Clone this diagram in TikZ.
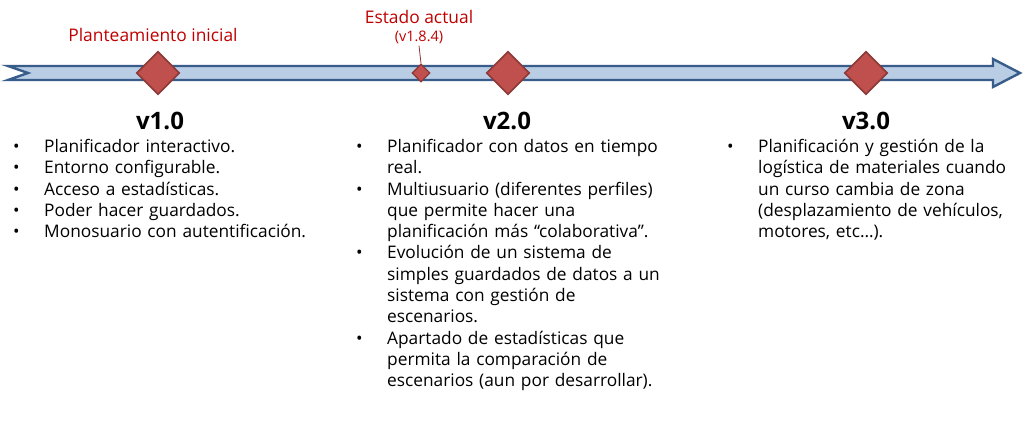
\documentclass[tikz,border=0pt]{standalone}
\usepackage{fontspec}
\setmainfont{Open Sans}
\usetikzlibrary{shapes.geometric}
\definecolor{azulrelleno}{RGB}{185,205,229}
\definecolor{azulborde}{RGB}{56,93,138}
\definecolor{rojohito}{RGB}{192,80,77}
\definecolor{rojoborde}{RGB}{140,56,54}
\definecolor{rojotexto}{RGB}{192,0,0}
\newcommand{\bul}{\par\hangindent=31pt\hangafter=1\noindent\makebox[31pt][l]{\textbullet}}
\tikzset{
  hito/.style={diamond, aspect=1, inner sep=0pt, minimum size=43pt, fill=rojohito, draw=rojoborde, line width=1.6pt},
  hitochico/.style={hito, minimum size=18pt, line width=1.3pt},
  etiqueta/.style={font=\fontsize{17.4}{20}\selectfont, text=rojotexto, inner sep=0pt},
  version/.style={font=\fontsize{24}{28}\selectfont\bfseries, inner sep=0pt, anchor=base},
  lista/.style={font=\fontsize{17.3}{21.3}\selectfont, inner sep=0pt, anchor=north west, align=left, text width=#1},
  flecha/.style={fill=azulrelleno, draw=azulborde, line width=2.4pt, line join=miter}
}
\begin{document}
\begin{tikzpicture}[x=1pt, y=-1pt]
\useasboundingbox[fill=white] (0,0) rectangle (1024,430);
% linea de tiempo
\draw[flecha] (8,66) -- (993,66) -- (993,59) -- (1020,73) -- (993,87) -- (993,80)
  -- (8,80) -- (28,73) -- cycle;
% hitos
\node[hito] (h1) at (158,73) {};
\node[hitochico] (hact) at (421,73) {};
\node[hito] (h2) at (508,73) {};
\node[hito] (h3) at (866,73) {};
% etiquetas rojas
\node[etiqueta] (inicial) at (153,35) {Planteamiento inicial};
\node[etiqueta] (actual) at (419,17) {Estado actual};
\node[etiqueta, font=\fontsize{14.5}{17}\selectfont] (version) at (419,37) {(v1.8.4)};
\draw[rojoborde, line width=0.8pt] (version.south) ++(0,2) -- (hact.north);
% versiones
\node[version] (v1) at (160,130) {v1.0};
\node[version] (v2) at (507,130) {v2.0};
\node[version] (v3) at (866,130) {v3.0};
% listas
\node[lista=320pt] (l1) at (13,131) {%
  \bul Planificador interactivo.
  \bul Entorno configurable.
  \bul Acceso a estadísticas.
  \bul Poder hacer guardados.
  \bul Monosuario con autentificación.\par};
\node[lista=340pt] (l2) at (356,131) {%
  \bul Planificador con datos en tiempo\newline real.
  \bul Multiusuario (diferentes perfiles)\newline que permite hacer una\newline planificación más “colaborativa”.
  \bul Evolución de un sistema de\newline simples guardados de datos a un\newline sistema con gestión de\newline escenarios.
  \bul Apartado de estadísticas que\newline permita la comparación de\newline escenarios (aun por desarrollar).\par};
\node[lista=295pt] (l3) at (727,131) {%
  \bul Planificación y gestión de la\newline logística de materiales cuando\newline un curso cambia de zona\newline (desplazamiento de vehículos,\newline motores, etc…).\par};
\end{tikzpicture}
\end{document}
